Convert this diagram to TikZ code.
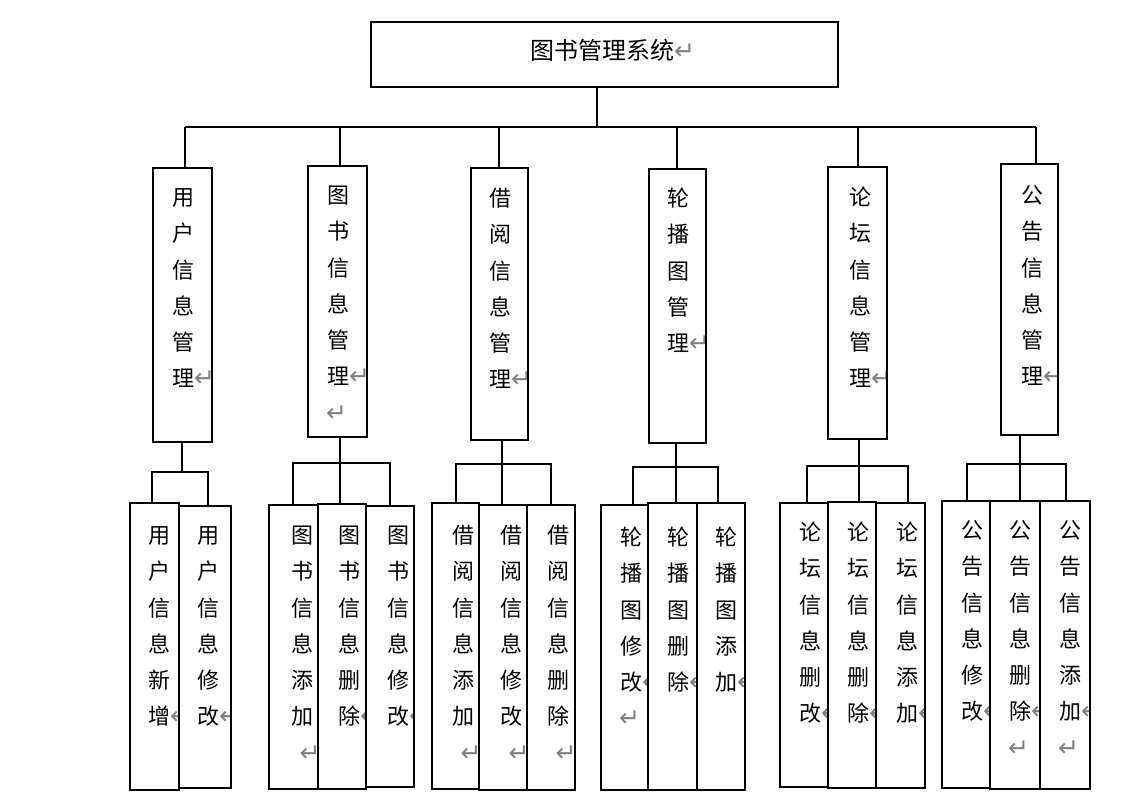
\documentclass[tikz,border=0pt]{standalone}
\usepackage{fontspec}
\newfontfamily\cjk{Noto Sans CJK SC}
\newfontfamily\arfont{DejaVu Sans}
\definecolor{retgray}{RGB}{128,128,128}
\newcommand{\retmark}{\raisebox{0pt}{\arfont\fontsize{25}{25}\selectfont\color{retgray}↵}}
\newcommand{\arI}{\rlap{\hspace{0pt}\retmark}}
\newcommand{\arN}{\leavevmode\rlap{\hspace{-2.5pt}\retmark}}
\newcommand{\arNL}{\leavevmode\rlap{\hspace{-12pt}\retmark}}
\newcommand{\mkbox}[5]{\node[boxst, minimum width={(#4-#2)*1pt}, minimum height={(#5-#3)*1pt}] (#1) at (#2,#3) {};}
\newcommand{\mktext}[5]{%
  \begin{scope}
    \clip ([shift={(1.2pt,1.2pt)}]#2.south west) rectangle ([shift={(-1.2pt,-1.2pt)}]#2.north east);
    \node[txtst, anchor=base] (#1) at (#3,#4+8.4) {\parbox[t]{30pt}{\centering\cjk\fontsize{22}{36.3}\selectfont #5}};
  \end{scope}}
\begin{document}
\begin{tikzpicture}[x=1pt,y=-1pt,
  boxst/.style={draw, line width=2.4pt, inner sep=0pt, outer sep=0pt, anchor=north west},
  conn/.style={line width=2.2pt, line join=miter},
  txtst/.style={inner sep=0pt, outer sep=0pt}]
\useasboundingbox (0,0) rectangle (1145,811);

% boxes
\mkbox{T}{371}{22}{838}{87}
\mkbox{M1}{153}{168}{212}{442}
\mkbox{M2}{308}{166}{367}{437}
\mkbox{M3}{471}{168}{528}{440}
\mkbox{M4}{649}{169}{706}{443}
\mkbox{M5}{828}{167}{887}{439}
\mkbox{M6}{1001}{164}{1058}{435}
\mkbox{A}{130}{503}{179}{790}
\mkbox{B}{179}{506}{231}{788}
\mkbox{C}{269}{505}{318}{789}
\mkbox{D}{318}{504}{366}{789}
\mkbox{E}{366}{506}{414}{787}
\mkbox{F}{432}{503}{479}{789}
\mkbox{G}{479}{505}{527}{790}
\mkbox{H}{527}{505}{575}{790}
\mkbox{I}{601}{505}{648}{790}
\mkbox{J}{648}{503}{697}{790}
\mkbox{K}{697}{503}{745}{790}
\mkbox{L}{780}{503}{828}{787}
\mkbox{M}{828}{502}{876}{788}
\mkbox{N}{876}{503}{925}{788}
\mkbox{O}{942}{501}{990}{788}
\mkbox{P}{990}{501}{1040}{789}
\mkbox{Q}{1040}{501}{1090}{789}

% title
\node[txtst, anchor=base west] (title) at (530,59) {\cjk\fontsize{24}{28}\selectfont 图书管理系统\retmark};

% texts
\mktext{tM1}{M1}{183}{197}{用\\户\\信\\息\\管\\理\arI}
\mktext{tM2}{M2}{338}{195}{图\\书\\信\\息\\管\\理\arI\\\arNL}
\mktext{tM3}{M3}{500}{198}{借\\阅\\信\\息\\管\\理\arI}
\mktext{tM4}{M4}{678}{198}{轮\\播\\图\\管\\理\arI}
\mktext{tM5}{M5}{860}{197}{论\\坛\\信\\息\\管\\理\arI}
\mktext{tM6}{M6}{1032}{195}{公\\告\\信\\息\\管\\理\arI}

\mktext{tA}{A}{159}{535}{用\\户\\信\\息\\新\\增\arI}
\mktext{tB}{B}{208}{535}{用\\户\\信\\息\\修\\改\arI}
\mktext{tC}{C}{302}{535}{图\\书\\信\\息\\添\\加\\\arN}
\mktext{tD}{D}{349}{535}{图\\书\\信\\息\\删\\除\arI}
\mktext{tE}{E}{398}{535}{图\\书\\信\\息\\修\\改\arI}
\mktext{tF}{F}{463}{535}{借\\阅\\信\\息\\添\\加\\\arN}
\mktext{tG}{G}{511}{535}{借\\阅\\信\\息\\修\\改\\\arN}
\mktext{tH}{H}{558}{535}{借\\阅\\信\\息\\删\\除\\\arN}
\mktext{tI}{I}{631}{537}{轮\\播\\图\\修\\改\arI\\\arNL}
\mktext{tJ}{J}{678}{537}{轮\\播\\图\\删\\除\arI}
\mktext{tK}{K}{726}{537}{轮\\播\\图\\添\\加\arI}
\mktext{tL}{L}{810}{532}{论\\坛\\信\\息\\删\\改\arI}
\mktext{tM}{M}{858}{532}{论\\坛\\信\\息\\删\\除\arI}
\mktext{tN}{N}{907}{532}{论\\坛\\信\\息\\添\\加\arI}
\mktext{tO}{O}{972}{530}{公\\告\\信\\息\\修\\改\arI}
\mktext{tP}{P}{1020}{530}{公\\告\\信\\息\\删\\除\arI\\\arNL}
\mktext{tQ}{Q}{1070}{530}{公\\告\\信\\息\\添\\加\arI\\\arNL}

% top level connectors
\coordinate (b0) at (597,127);
\coordinate (b1) at (185,127);
\coordinate (b2) at (340,127);
\coordinate (b3) at (499,127);
\coordinate (b4) at (677,127);
\coordinate (b5) at (858,127);
\coordinate (b6) at (1036,127);
\draw[conn] (b0 |- T.south) -- (b0);
\draw[conn] (b1) -- (b6);
\draw[conn] (b1) -- (b1 |- M1.north);
\draw[conn] (b2) -- (b2 |- M2.north);
\draw[conn] (b3) -- (b3 |- M3.north);
\draw[conn] (b4) -- (b4 |- M4.north);
\draw[conn] (b5) -- (b5 |- M5.north);
\draw[conn] (b6) -- (b6 |- M6.north);

% group 1
\coordinate (g1L) at (152,472); \coordinate (g1R) at (208,472); \coordinate (g1M) at (182,472);
\draw[conn] (g1M |- M1.south) -- (g1M);
\draw[conn] (g1L |- A.north) -- (g1L) -- (g1R) -- (g1R |- B.north);
% group 2
\coordinate (g2L) at (293,463); \coordinate (g2R) at (390,463); \coordinate (g2M) at (340,463);
\draw[conn] (g2M |- M2.south) -- (g2M |- D.north);
\draw[conn] (g2L |- C.north) -- (g2L) -- (g2R) -- (g2R |- E.north);
% group 3
\coordinate (g3L) at (456,464); \coordinate (g3R) at (551,464); \coordinate (g3M) at (502,464);
\draw[conn] (g3M |- M3.south) -- (g3M |- G.north);
\draw[conn] (g3L |- F.north) -- (g3L) -- (g3R) -- (g3R |- H.north);
% group 4
\coordinate (g4L) at (633,467); \coordinate (g4R) at (718,467); \coordinate (g4M) at (676,467);
\draw[conn] (g4M |- M4.south) -- (g4M |- J.north);
\draw[conn] (g4L |- I.north) -- (g4L) -- (g4R) -- (g4R |- K.north);
% group 5
\coordinate (g5L) at (807,466); \coordinate (g5R) at (908,466); \coordinate (g5M) at (859,466);
\draw[conn] (g5M |- M5.south) -- (g5M |- M.north);
\draw[conn] (g5L |- L.north) -- (g5L) -- (g5R) -- (g5R |- N.north);
% group 6
\coordinate (g6L) at (967,464); \coordinate (g6R) at (1066,464); \coordinate (g6M) at (1020,464);
\draw[conn] (g6M |- M6.south) -- (g6M |- P.north);
\draw[conn] (g6L |- O.north) -- (g6L) -- (g6R) -- (g6R |- Q.north);
\end{tikzpicture}
\end{document}
